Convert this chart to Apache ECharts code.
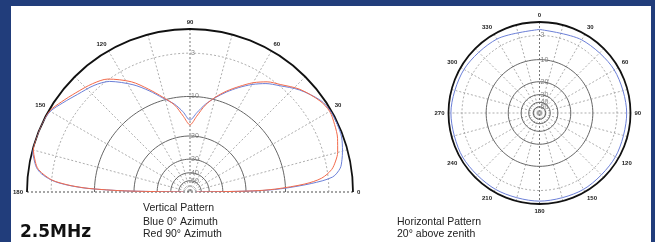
<!DOCTYPE html>
<html>
<head>
<meta charset="utf-8">
<script src="https://cdn.jsdelivr.net/npm/echarts@6/dist/echarts.min.js"></script>
<style>
  html, body { margin: 0; padding: 0; background: #213d7b; }
  #chart { width: 655px; height: 242px; }
</style>
</head>
<body>
<div id="chart"></div>
<script>
// vertical pattern: elevation angle, 0 = right horizon, 90 = zenith, 180 = left horizon
const vAngles = [0, 1, 2, 4, 6, 9, 12, 15, 20, 25, 30, 35, 43, 50, 55, 60, 65, 70, 75, 80, 85, 90,
  95, 100, 106, 112, 118, 126, 132, 139, 145, 150, 155, 160, 165, 168, 171, 173, 175, 176, 177, 178, 179, 180]
// dB below max
const vBlue = [60, 17, 11, 5.5, 2.4, 1.3, 0.9, 0.6, 0.2, 0.1, 0.1, 0.4, 1.6, 3.0, 3.9, 5.1, 6.5, 8.0, 9.6, 11.3, 13.4, 15.3,
  13.2, 11.3, 9.6, 7.5, 5.5, 3.3, 2.4, 1.7, 0.9, 0.2, 0, 0, 0, 0.4, 0.9, 1.6, 2.9, 4.0, 5.8, 8.8, 17, 60]
const vRed = [60, 18, 12, 6.5, 3.9, 2.4, 1.7, 1.2, 0.7, 0.4, 0.2, 0.5, 1.5, 2.8, 3.6, 4.8, 6.3, 7.8, 9.5, 11.5, 14.3, 16.6,
  14.3, 11.5, 9.4, 7.2, 5.0, 2.9, 2.1, 1.4, 0.7, 0.1, 0, 0, 0.1, 0.5, 1.0, 1.8, 3.0, 4.2, 6.0, 9.0, 17, 60]

// horizontal pattern: azimuth, 0 at top, clockwise
const hAngles = [0, 30, 60, 90, 120, 150, 180, 210, 240, 270, 300, 330, 360]
const hBlue = [1.6, 1.4, 1.0, 0.8, 0.7, 0.6, 0.6, 0.6, 0.5, 0.5, 0.8, 1.2, 1.6]

// grid rings (dB) and their line styles
const rings = [3, 10, 20, 30, 40, 50]
const ringDashed = [true, false, false, false, false, false]

// ARRL style log scale, radius factor per dB
const DB_STEP = 0.948
function toR(db) {
  return Math.pow(DB_STEP, db)
}

const ringAngV = []
for (let a = 0; a <= 180; a += 2) ringAngV.push(a)
const ringAngH = []
for (let a = 0; a <= 360; a += 3) ringAngH.push(a)

const labelFont = 'Liberation Sans'

function ringSeries(polarIndex, angles) {
  return rings.map((db, i) => ({
    type: 'line',
    coordinateSystem: 'polar',
    polarIndex: polarIndex,
    data: angles.map(a => [toR(db), a]),
    showSymbol: false,
    silent: true,
    z: 1,
    lineStyle: {
      color: ringDashed[i] ? '#999' : '#666',
      width: ringDashed[i] ? 0.8 : 1,
      type: ringDashed[i] ? [2, 2] : 'solid'
    }
  }))
}

function ringLabels(polarIndex, angle) {
  return {
    type: 'scatter',
    coordinateSystem: 'polar',
    polarIndex: polarIndex,
    symbolSize: 0,
    silent: true,
    z: 3,
    data: rings.map(db => ({ value: [toR(db), angle], name: String(db) })),
    label: {
      show: true,
      position: 'right',
      distance: 1,
      formatter: p => p.name,
      fontFamily: labelFont,
      fontSize: 7,
      color: '#666'
    }
  }
}

function patternLine(polarIndex, angles, values, color) {
  return {
    type: 'line',
    coordinateSystem: 'polar',
    polarIndex: polarIndex,
    data: angles.map((a, i) => [toR(values[i]), a]),
    showSymbol: false,
    smooth: 0.3,
    z: 4,
    lineStyle: { color: color, width: 1 }
  }
}

const spokeColorsV = []
for (let i = 0; i <= 12; i++) spokeColorsV.push(i === 0 || i === 12 ? '#222' : (i === 6 ? '#555' : '#999'))
const spokeColorsH = []
for (let i = 0; i < 24; i++) spokeColorsH.push(i % 12 === 0 ? '#555' : '#999')

const angleLabel = {
  fontFamily: labelFont,
  fontSize: 6,
  fontWeight: 'bold',
  color: '#222',
  margin: 4
}

const radiusHidden = {
  type: 'value',
  min: 0,
  max: 1,
  axisLine: { show: false },
  axisTick: { show: false },
  axisLabel: { show: false },
  splitLine: { show: false }
}

const chart = echarts.init(document.getElementById('chart'))
chart.setOption({
  animation: false,
  backgroundColor: '#213d7b',
  polar: [
    { center: [190, 192], radius: 163 },
    { center: [539.5, 113], radius: 91 }
  ],
  angleAxis: [
    {
      polarIndex: 0,
      type: 'value',
      min: 0,
      max: 180,
      interval: 15,
      startAngle: 0,
      endAngle: 180,
      clockwise: false,
      axisLine: { lineStyle: { color: '#111', width: 1.8 } },
      axisTick: { show: false },
      axisLabel: Object.assign({}, angleLabel, {
        formatter: v => (v % 30 === 0 ? String(v) : '')
      }),
      splitLine: { show: true, lineStyle: { color: spokeColorsV, width: 0.8, type: [2, 2] } }
    },
    {
      polarIndex: 1,
      type: 'value',
      min: 0,
      max: 360,
      interval: 15,
      startAngle: 90,
      clockwise: true,
      axisLine: { lineStyle: { color: '#111', width: 1.8 } },
      axisTick: { show: false },
      axisLabel: Object.assign({}, angleLabel, {
        formatter: v => (v % 30 === 0 && v < 360 ? String(v) : '')
      }),
      splitLine: { show: true, lineStyle: { color: spokeColorsH, width: 0.8, type: [2, 2] } }
    }
  ],
  radiusAxis: [
    Object.assign({ polarIndex: 0 }, radiusHidden),
    Object.assign({ polarIndex: 1 }, radiusHidden)
  ],
  graphic: [
    { type: 'rect', shape: { x: 11, y: 6, width: 640, height: 240 }, style: { fill: '#fff' }, z: -10, silent: true },
    { type: 'text', left: 143, top: 203, style: { text: 'Vertical Pattern', font: '10.5px "Liberation Sans"', fill: '#222' } },
    { type: 'text', left: 143, top: 217, style: { text: 'Blue 0° Azimuth', font: '10.5px "Liberation Sans"', fill: '#222' } },
    { type: 'text', left: 143, top: 229, style: { text: 'Red 90° Azimuth', font: '10.5px "Liberation Sans"', fill: '#222' } },
    { type: 'text', left: 20, top: 224, style: { text: '2.5MHz', font: 'bold 17px "DejaVu Sans"', fill: '#111' } },
    { type: 'text', left: 397, top: 217, style: { text: 'Horizontal Pattern', font: '10.5px "Liberation Sans"', fill: '#222' } },
    { type: 'text', left: 397, top: 229, style: { text: '20° above zenith', font: '10.5px "Liberation Sans"', fill: '#222' } }
  ],
  series: [
    ...ringSeries(0, ringAngV),
    ...ringSeries(1, ringAngH),
    ringLabels(0, 90),
    ringLabels(1, 0),
    patternLine(0, vAngles, vBlue, '#6b7fd7'),
    patternLine(0, vAngles, vRed, '#f26a4b'),
    patternLine(1, hAngles, hBlue, '#6b7fd7')
  ]
})
</script>
</body>
</html>
